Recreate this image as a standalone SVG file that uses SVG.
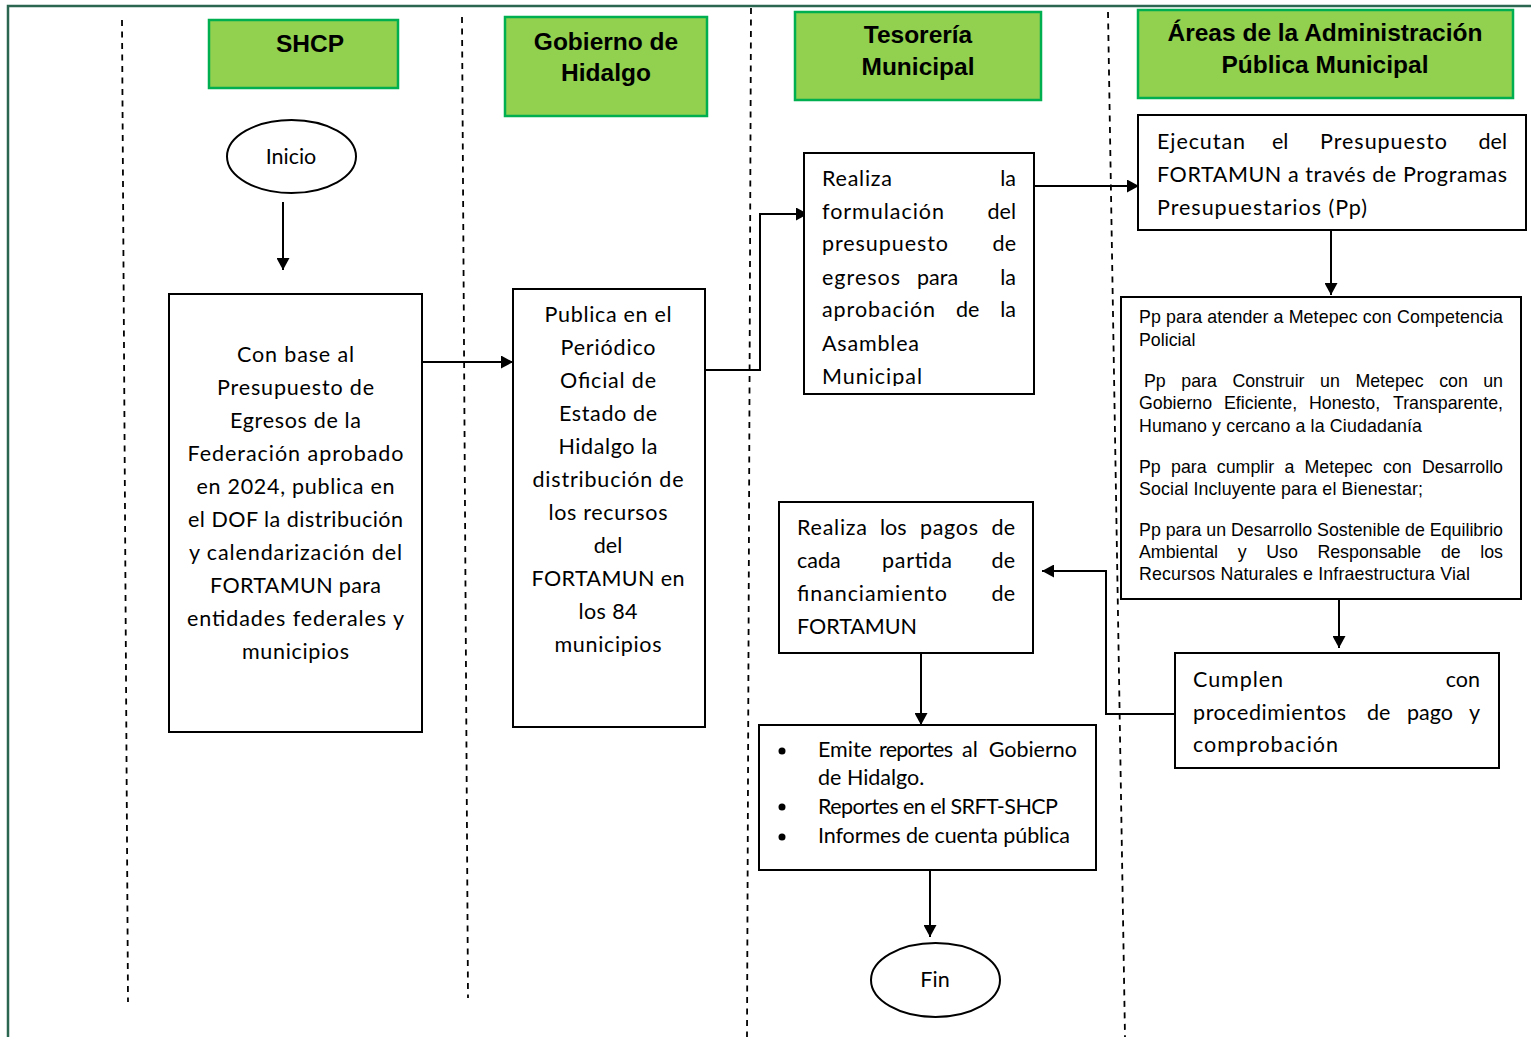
<svg xmlns="http://www.w3.org/2000/svg" width="1531" height="1037" viewBox="0 0 1531 1037">
<style>
.hdr{fill:#92d050;stroke:#00b050;stroke-width:2.5}
.ht{font-family:"Liberation Sans",Arial,sans-serif;font-weight:bold;font-size:24.5px;text-anchor:middle;fill:#000}
.box{fill:#fff;stroke:#000;stroke-width:2}
.t{font-family:Lato,"Open Sans",sans-serif;font-size:21.5px;fill:#000}
.a{font-family:"Liberation Sans",Arial,sans-serif;font-size:17.8px;fill:#000}
.c{text-anchor:middle}
.e{text-anchor:end}
.lane{stroke:#000;stroke-width:1.8;stroke-dasharray:6 5.5;fill:none}
.conn{stroke:#000;stroke-width:2;fill:none;marker-end:url(#arr)}
</style>
<defs>
<marker id="arr" viewBox="0 0 12 13" refX="12" refY="6.5" markerWidth="12" markerHeight="13" markerUnits="userSpaceOnUse" orient="auto">
<path d="M0,0 L12,6.5 L0,13 z" fill="#000"/>
</marker>
<clipPath id="clipR"><rect x="804" y="153" width="230" height="233"/></clipPath>
</defs>
<rect width="1531" height="1037" fill="#fff"/>
<g id="frame">
<path d="M8,1037 V6 H1531" fill="none" stroke="#2a6650" stroke-width="2.5"/>
</g>
<g id="lanes">
<line class="lane" x1="122" y1="20" x2="128" y2="1002"/>
<line class="lane" x1="462" y1="17" x2="468" y2="998"/>
<line class="lane" x1="751" y1="8" x2="747" y2="1037"/>
<line class="lane" x1="1108" y1="12" x2="1125" y2="1037"/>
</g>
<g id="hdr-shcp">
<rect class="hdr" x="209" y="20" width="189" height="68"/>
<text class="ht" x="310" y="52">SHCP</text>
</g>
<g id="hdr-gobierno">
<rect class="hdr" x="505" y="17" width="202" height="99"/>
<text class="ht" x="606" y="50">Gobierno de</text>
<text class="ht" x="606" y="81">Hidalgo</text>
</g>
<g id="hdr-tesoreria">
<rect class="hdr" x="795" y="12" width="246" height="88"/>
<text class="ht" x="918" y="43">Tesorería</text>
<text class="ht" x="918" y="75">Municipal</text>
</g>
<g id="hdr-areas">
<rect class="hdr" x="1138" y="10" width="375" height="88"/>
<text class="ht" x="1325" y="41">Áreas de la Administración</text>
<text class="ht" x="1325" y="73">Pública Municipal</text>
</g>
<g id="connectors">
<path class="conn" d="M283,202 V270"/>
<path class="conn" d="M422,362 H513"/>
<path class="conn" d="M705,370 H760 V214 H808"/>
<path class="conn" d="M1034,186 H1139"/>
<path class="conn" d="M1331,230 V295"/>
<path class="conn" d="M1339,599 V648"/>
<path class="conn" d="M1175,714 H1106 V571 H1042"/>
<path class="conn" d="M921,653 V725"/>
<path class="conn" d="M930,870 V937"/>
</g>
<g id="inicio">
<ellipse cx="291.5" cy="156.5" rx="64.5" ry="36.5" fill="#fff" stroke="#000" stroke-width="2"/>
<text class="t c" x="291" y="164">Inicio</text>
</g>
<g id="shcp-publica">
<rect class="box" x="169" y="294" width="253" height="438"/>
<text class="t c" x="295.5" y="362" textLength="117" lengthAdjust="spacing">Con base al</text>
<text class="t c" x="295.5" y="395" textLength="157" lengthAdjust="spacing">Presupuesto de</text>
<text class="t c" x="295.5" y="428" textLength="131" lengthAdjust="spacing">Egresos de la</text>
<text class="t c" x="295.5" y="461" textLength="216" lengthAdjust="spacing">Federación aprobado</text>
<text class="t c" x="295.5" y="494" textLength="198" lengthAdjust="spacing">en 2024, publica en</text>
<text class="t c" x="295.5" y="527" textLength="215" lengthAdjust="spacing">el DOF la distribución</text>
<text class="t c" x="295.5" y="560" textLength="213" lengthAdjust="spacing">y calendarización del</text>
<text class="t c" x="295.5" y="593" textLength="171" lengthAdjust="spacing">FORTAMUN para</text>
<text class="t c" x="295.5" y="626" textLength="217" lengthAdjust="spacing">entidades federales y</text>
<text class="t c" x="295.5" y="659" textLength="107" lengthAdjust="spacing">municipios</text>
</g>
<g id="gob-publica">
<rect class="box" x="513" y="289" width="192" height="438"/>
<text class="t c" x="608" y="322" textLength="127" lengthAdjust="spacing">Publica en el</text>
<text class="t c" x="608" y="355" textLength="95" lengthAdjust="spacing">Periódico</text>
<text class="t c" x="608" y="388" textLength="96" lengthAdjust="spacing">Oficial de</text>
<text class="t c" x="608" y="421" textLength="98" lengthAdjust="spacing">Estado de</text>
<text class="t c" x="608" y="454" textLength="99" lengthAdjust="spacing">Hidalgo la</text>
<text class="t c" x="608" y="487" textLength="151" lengthAdjust="spacing">distribución de</text>
<text class="t c" x="608" y="520" textLength="119" lengthAdjust="spacing">los recursos</text>
<text class="t c" x="608" y="553">del</text>
<text class="t c" x="608" y="586" textLength="153" lengthAdjust="spacing">FORTAMUN en</text>
<text class="t c" x="608" y="619" textLength="59" lengthAdjust="spacing">los 84</text>
<text class="t c" x="608" y="652" textLength="107" lengthAdjust="spacing">municipios</text>
</g>
<g id="tes-formulacion">
<rect class="box" x="804" y="153" width="230" height="241"/>
<g clip-path="url(#clipR)">
<text class="t" x="822" y="186" textLength="70" lengthAdjust="spacing">Realiza</text>
<text class="t e" x="1016" y="186">la</text>
<text class="t" x="822" y="219" textLength="122" lengthAdjust="spacing">formulación</text>
<text class="t e" x="1016" y="219">del</text>
<text class="t" x="822" y="251" textLength="126" lengthAdjust="spacing">presupuesto</text>
<text class="t e" x="1016" y="251">de</text>
<text class="t" x="822" y="285" textLength="78" lengthAdjust="spacing">egresos</text>
<text class="t" x="917" y="285">para</text>
<text class="t e" x="1016" y="285">la</text>
<text class="t" x="822" y="317" textLength="113" lengthAdjust="spacing">aprobación</text>
<text class="t" x="956" y="317">de</text>
<text class="t e" x="1016" y="317">la</text>
<text class="t" x="822" y="351" textLength="97" lengthAdjust="spacing">Asamblea</text>
<text class="t" x="822" y="384" textLength="100" lengthAdjust="spacing">Municipal</text>
</g>
</g>
<g id="areas-ejecutan">
<rect class="box" x="1138" y="115" width="388" height="115"/>
<text class="t" x="1157" y="149" textLength="88" lengthAdjust="spacing">Ejecutan</text>
<text class="t" x="1272" y="149">el</text>
<text class="t" x="1320" y="149" textLength="127" lengthAdjust="spacing">Presupuesto</text>
<text class="t e" x="1507" y="149">del</text>
<text class="t" x="1157" y="182" textLength="350" lengthAdjust="spacing">FORTAMUN a través de Programas</text>
<text class="t" x="1157" y="215" textLength="210" lengthAdjust="spacing">Presupuestarios (Pp)</text>
</g>
<g id="areas-programas">
<rect class="box" x="1121" y="297" width="400" height="302"/>
<text class="a" x="1139" y="323" textLength="364" lengthAdjust="spacing">Pp para atender a Metepec con Competencia</text>
<text class="a" x="1139" y="346">Policial</text>
<text class="a" y="387"><tspan x="1144">Pp</tspan><tspan x="1181.3">para</tspan><tspan x="1232.4">Construir</tspan><tspan x="1320.1">un</tspan><tspan x="1355.4">Metepec</tspan><tspan x="1439.2">con</tspan></text>
<text class="a e" x="1503" y="387">un</text>
<text class="a" y="409"><tspan x="1139">Gobierno</tspan><tspan x="1224">Eficiente,</tspan><tspan x="1309">Honesto,</tspan></text>
<text class="a e" x="1503" y="409">Transparente,</text>
<text class="a" x="1139" y="432" textLength="283" lengthAdjust="spacing">Humano y cercano a la Ciudadanía</text>
<text class="a" y="473"><tspan x="1139">Pp</tspan><tspan x="1171">para</tspan><tspan x="1216.8">cumplir</tspan><tspan x="1284.4">a</tspan><tspan x="1304.5">Metepec</tspan><tspan x="1383">con</tspan></text>
<text class="a e" x="1503" y="473">Desarrollo</text>
<text class="a" x="1139" y="495" textLength="284" lengthAdjust="spacing">Social Incluyente para el Bienestar;</text>
<text class="a" x="1139" y="536" textLength="364" lengthAdjust="spacing">Pp para un Desarrollo Sostenible de Equilibrio</text>
<text class="a" y="558"><tspan x="1139">Ambiental</tspan><tspan x="1237.7">y</tspan><tspan x="1266.2">Uso</tspan><tspan x="1317.4">Responsable</tspan><tspan x="1440.9">de</tspan></text>
<text class="a e" x="1503" y="558">los</text>
<text class="a" x="1139" y="580" textLength="331" lengthAdjust="spacing">Recursos Naturales e Infraestructura Vial</text>
</g>
<g id="areas-cumplen">
<rect class="box" x="1175" y="653" width="324" height="115"/>
<text class="t" x="1193" y="687" textLength="90" lengthAdjust="spacing">Cumplen</text>
<text class="t e" x="1480" y="687">con</text>
<text class="t" x="1193" y="720" textLength="153" lengthAdjust="spacing">procedimientos</text>
<text class="t" x="1367" y="720">de</text>
<text class="t" x="1407" y="720">pago</text>
<text class="t e" x="1480" y="720">y</text>
<text class="t" x="1193" y="752" textLength="145" lengthAdjust="spacing">comprobación</text>
</g>
<g id="tes-pagos">
<rect class="box" x="779" y="502" width="254" height="151"/>
<text class="t" x="797" y="535" textLength="70" lengthAdjust="spacing">Realiza</text>
<text class="t" x="880" y="535">los</text>
<text class="t" x="920" y="535" textLength="58" lengthAdjust="spacing">pagos</text>
<text class="t e" x="1015" y="535">de</text>
<text class="t" x="797" y="568">cada</text>
<text class="t" x="882" y="568" textLength="70" lengthAdjust="spacing">partida</text>
<text class="t e" x="1015" y="568">de</text>
<text class="t" x="797" y="601" textLength="150" lengthAdjust="spacing">financiamiento</text>
<text class="t e" x="1015" y="601">de</text>
<text class="t" x="797" y="634" textLength="120" lengthAdjust="spacing">FORTAMUN</text>
</g>
<g id="tes-reportes">
<rect class="box" x="759" y="725" width="337" height="145"/>
<circle cx="782" cy="751" r="3.5" fill="#000"/>
<circle cx="782" cy="807" r="3.5" fill="#000"/>
<circle cx="782" cy="837" r="3.5" fill="#000"/>
<text class="t" x="818" y="757">Emite</text>
<text class="t" x="879" y="757" textLength="74" lengthAdjust="spacing">reportes</text>
<text class="t" x="962" y="757">al</text>
<text class="t e" x="1077" y="757">Gobierno</text>
<text class="t" x="818" y="785">de Hidalgo.</text>
<text class="t" x="818" y="814" textLength="240" lengthAdjust="spacing">Reportes en el SRFT-SHCP</text>
<text class="t" x="818" y="843" textLength="252" lengthAdjust="spacing">Informes de cuenta pública</text>
</g>
<g id="fin">
<ellipse cx="935.5" cy="980" rx="64.5" ry="37" fill="#fff" stroke="#000" stroke-width="2"/>
<text class="t c" x="935" y="987">Fin</text>
</g>
</svg>
